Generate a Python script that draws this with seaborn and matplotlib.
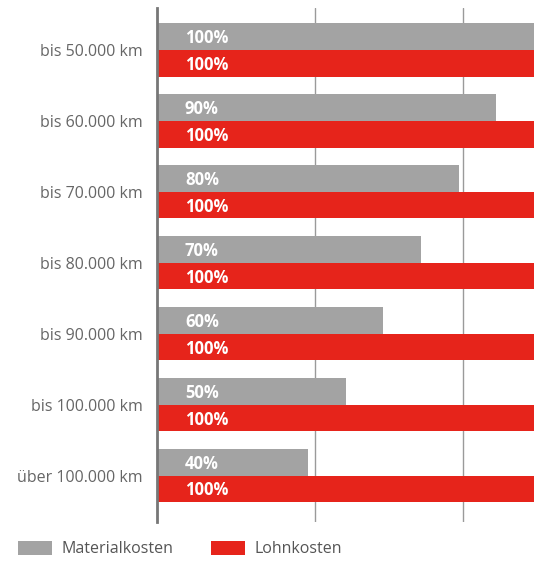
import matplotlib
matplotlib.use("Agg")
from matplotlib import pyplot as plt
import seaborn as sns
import pandas as pd

categories = ["bis 50.000 km", "bis 60.000 km", "bis 70.000 km", "bis 80.000 km",
              "bis 90.000 km", "bis 100.000 km", "über 100.000 km"]
materialkosten = [100, 90, 80, 70, 60, 50, 40]
lohnkosten = [100, 100, 100, 100, 100, 100, 100]
series_names = ["Materialkosten", "Lohnkosten"]

df = pd.DataFrame({
    "km": categories * 2,
    "wert": materialkosten + lohnkosten,
    "art": [series_names[0]] * len(categories) + [series_names[1]] * len(categories),
})

sns.set_style("white")
plt.rcParams['font.family'] = ['Open Sans', 'DejaVu Sans']

fig = plt.figure(figsize=(5.57, 5.76), dpi=100)
ax = fig.add_axes([157 / 557, 1 - 522 / 576, 377 / 557, 514 / 576])

colors = {"Materialkosten": "#a3a3a3", "Lohnkosten": "#e6241b"}
sns.barplot(data=df, y="km", x="wert", hue="art", orient="h", palette=colors,
            width=0.75, ax=ax, saturation=1, legend=True, linewidth=0)

ax.set_xlim(0, 100)
ax.set_ylim(6.65, -0.59)
ax.set_xlabel("")
ax.set_ylabel("")

# gridlines (not at round values in the original)
ax.set_xticks([41.9, 81.2])
ax.set_xticklabels([])
ax.tick_params(axis="x", length=0)
ax.grid(axis="x", color="#9a9a9a", lw=1)
ax.set_axisbelow(True)

ax.tick_params(axis="y", length=0, pad=10, labelsize=11.5, labelcolor="#666666")
for s in ["top", "right", "bottom"]:
    ax.spines[s].set_visible(False)
ax.spines["left"].set_color("#777777")
ax.spines["left"].set_linewidth(2)

# value labels inside the bars
for cont, vals in zip(ax.containers, [materialkosten, lohnkosten]):
    for patch, v in zip(cont.patches, vals):
        ax.text(7.4, patch.get_y() + patch.get_height() * 0.55, f"{v}%",
                color="white", fontsize=12, fontweight="bold", va="center", ha="left")

handles, labels = ax.get_legend_handles_labels()
ax.get_legend().remove()
fig.legend(handles, labels, loc="center left", bbox_to_anchor=(18 / 557, 1 - 549 / 576),
           ncol=2, frameon=False, fontsize=11.5, labelcolor="#555555",
           handlelength=2.1, handleheight=1.0, handletextpad=0.6, columnspacing=2.4,
           borderpad=0, borderaxespad=0)

fig.savefig("out.png", dpi=100)
